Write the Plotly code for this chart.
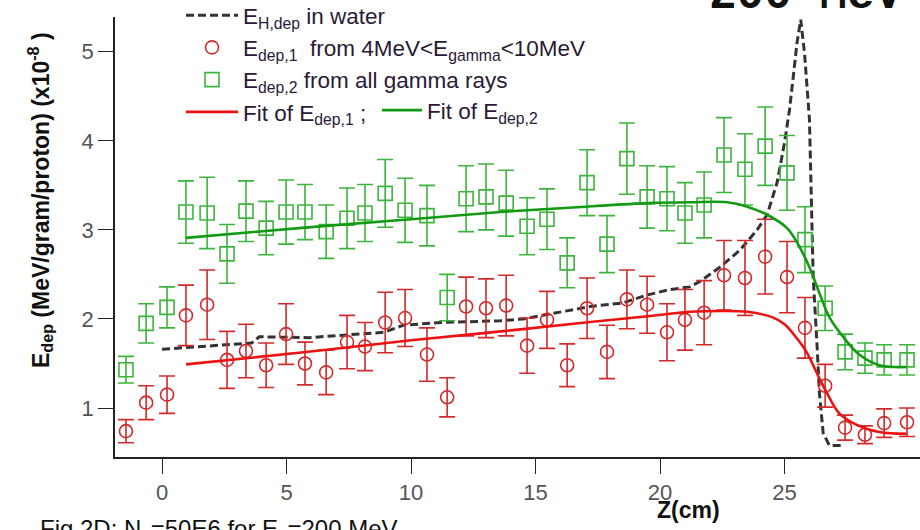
import plotly.graph_objects as go

# ---------------- data ----------------
z_points = [-1.45, -0.64, 0.20, 0.96, 1.81, 2.61, 3.37, 4.18, 4.98, 5.74,
            6.59, 7.43, 8.15, 8.96, 9.76, 10.64, 11.45, 12.21, 13.01, 13.82,
            14.66, 15.46, 16.27, 17.07, 17.87, 18.67, 19.48, 20.28, 21.00, 21.77,
            22.57, 23.41, 24.22, 25.10, 25.82, 26.63, 27.43, 28.23, 29.00, 29.92]

edep2 = [1.43, 1.95, 2.13, 3.20, 3.19, 2.73, 3.21, 3.02, 3.20, 3.20,
         2.98, 3.13, 3.19, 3.41, 3.22, 3.16, 2.24, 3.35, 3.37, 3.30,
         3.04, 3.12, 2.63, 3.53, 2.84, 3.80, 3.37, 3.35, 3.19, 3.28,
         3.84, 3.68, 3.94, 3.64, 2.89, 2.12, 1.63, 1.56, 1.54, 1.54]
edep2_err = [0.15, 0.22, 0.23, 0.35, 0.40, 0.33, 0.34, 0.30, 0.36, 0.31,
             0.30, 0.34, 0.32, 0.38, 0.36, 0.34, 0.26, 0.37, 0.37, 0.37,
             0.32, 0.34, 0.28, 0.37, 0.32, 0.40, 0.35, 0.36, 0.34, 0.37,
             0.42, 0.40, 0.44, 0.42, 0.37, 0.25, 0.20, 0.17, 0.17, 0.17]

edep1 = [0.74, 1.06, 1.15, 2.04, 2.16, 1.54, 1.64, 1.48, 1.83, 1.50,
         1.40, 1.74, 1.69, 1.96, 2.01, 1.60, 1.12, 2.14, 2.12, 2.15,
         1.70, 1.99, 1.48, 2.12, 1.63, 2.22, 2.16, 1.85, 1.99, 2.07,
         2.49, 2.46, 2.70, 2.47, 1.90, 1.25, 0.78, 0.70, 0.83, 0.84]
edep1_err = [0.13, 0.19, 0.21, 0.34, 0.39, 0.32, 0.30, 0.25, 0.34, 0.24,
             0.25, 0.30, 0.27, 0.34, 0.32, 0.30, 0.22, 0.33, 0.33, 0.34,
             0.31, 0.32, 0.24, 0.34, 0.30, 0.33, 0.32, 0.32, 0.34, 0.36,
             0.39, 0.42, 0.42, 0.40, 0.34, 0.24, 0.14, 0.10, 0.16, 0.16]

fit1_z = [0.96, 5.5, 10.0, 13.6, 17.0, 19.5, 21.2, 22.5, 23.5, 24.5,
          25.0, 25.5, 25.9, 26.3, 26.7, 27.2, 27.9, 28.8, 29.9]
fit1_e = [1.49, 1.62, 1.76, 1.86, 1.96, 2.03, 2.08, 2.09, 2.08, 2.02,
          1.94, 1.78, 1.62, 1.39, 1.17, 0.94, 0.81, 0.73, 0.71]

fit2_z = [0.96, 5.5, 10.0, 13.6, 17.0, 19.5, 21.2, 22.7, 23.5, 24.3,
          25.1, 25.6, 26.0, 26.4, 26.8, 27.35, 28.0, 28.8, 29.4, 29.9]
fit2_e = [2.91, 3.02, 3.12, 3.20, 3.26, 3.30, 3.31, 3.31, 3.26, 3.17,
          3.02, 2.81, 2.58, 2.29, 2.02, 1.80, 1.60, 1.48, 1.46, 1.46]

water_z = [0.0, 2.3, 3.6, 3.9, 5.9, 8.9, 9.7, 11.2, 13.6, 14.5,
           15.9, 17.2, 18.5, 19.5, 20.4, 21.2, 21.6, 22.4, 23.2, 23.9,
           24.3, 24.7, 25.0, 25.2, 25.35, 25.5, 25.65, 25.8, 26.0, 26.1,
           26.15, 26.3, 26.4, 26.55, 26.8, 27.3]
water_e = [1.66, 1.71, 1.73, 1.80, 1.79, 1.85, 1.93, 1.96, 1.98, 2.00,
           2.07, 2.14, 2.18, 2.27, 2.33, 2.36, 2.42, 2.58, 2.77, 3.00,
           3.17, 3.53, 3.98, 4.35, 4.72, 5.10, 5.36, 4.99, 4.24, 3.22,
           2.47, 1.73, 1.17, 0.72, 0.58, 0.58]

x_ticks = [0, 5, 10, 15, 20, 25]
y_ticks = [1, 2, 3, 4, 5]

# ---------------- styles ----------------
RED_PT = "#d22a2a"
RED_FIT = "#ee1111"
GREEN_PT = "#3cb43c"
GREEN_FIT = "#139a13"
TXT = "#2a1a36"
FONT = "Liberation Sans, Arial, sans-serif"

L, R, T, B = 115, 0, 17, 73
PW, PH = 920 - L - R, 530 - T - B


def px_x(p):
    return (p - L) / PW


def px_y(p):
    return (530 - B - p) / PH


fig = go.Figure()

fig.add_trace(go.Scatter(
    x=water_z, y=water_e, mode="lines",
    line=dict(color="#333333", width=3, dash="8px,4px"),
    name="E<sub>H,dep</sub> in water", legendgroup="a", legend="legend"))

fig.add_trace(go.Scatter(
    x=z_points, y=edep1, mode="markers",
    marker=dict(symbol="circle-open", size=13, color=RED_PT, line=dict(width=1.6)),
    error_y=dict(type="data", array=edep1_err, color=RED_PT, thickness=1.6, width=8),
    name="E<sub>dep,1</sub>  from 4MeV&lt;E<sub>gamma</sub>&lt;10MeV", legendgroup="b", legend="legend"))

fig.add_trace(go.Scatter(
    x=z_points, y=edep2, mode="markers",
    marker=dict(symbol="square-open", size=14, color=GREEN_PT, line=dict(width=1.6)),
    error_y=dict(type="data", array=edep2_err, color=GREEN_PT, thickness=1.6, width=8),
    name="E<sub>dep,2</sub> from all gamma rays", legendgroup="c", legend="legend"))

fig.add_trace(go.Scatter(
    x=fit1_z, y=fit1_e, mode="lines", line=dict(color=RED_FIT, width=2.6, shape="spline"),
    name="Fit of E<sub>dep,1</sub> ;", legendgroup="d", legend="legend"))

fig.add_trace(go.Scatter(
    x=fit2_z, y=fit2_e, mode="lines", line=dict(color=GREEN_FIT, width=2.6, shape="spline"),
    name="Fit of E<sub>dep,2</sub>", legendgroup="e", legend="legend2"))

axis_common = dict(showline=True, linecolor="#222222", linewidth=1.5, ticks="outside",
                   ticklen=15, tickwidth=1.3, tickcolor="#222222", showgrid=False,
                   zeroline=False, tickfont=dict(family=FONT, size=22, color="#555555"))

fig.update_layout(
    width=920, height=530,
    margin=dict(l=L, r=R, t=T, b=B, autoexpand=False),
    paper_bgcolor="white", plot_bgcolor="white",
    showlegend=True,
    xaxis=dict(range=[-1.89, 30.44], tickvals=x_ticks, ticktext=[str(v) for v in x_ticks],
               **axis_common),
    yaxis=dict(range=[0.45, 5.39], tickvals=y_ticks, ticktext=[str(v) for v in y_ticks],
               **axis_common),
    legend=dict(x=px_x(181), y=px_y(-6), xanchor="left", yanchor="top",
                bgcolor="rgba(0,0,0,0)",
                font=dict(family=FONT, size=22.5, color=TXT), tracegroupgap=0,
                itemwidth=52),
    legend2=dict(x=px_x(377), y=px_y(89), xanchor="left", yanchor="top",
                 bgcolor="rgba(0,0,0,0)",
                 font=dict(family=FONT, size=22.5, color=TXT), itemwidth=40),
    annotations=[
        dict(text="<b>E<sub>dep</sub> (MeV/gram/proton) (x10<sup>-8</sup> )</b>",
             xref="paper", yref="paper", x=px_x(40), y=px_y(200), textangle=-90,
             xanchor="center", yanchor="middle", showarrow=False,
             font=dict(family=FONT, size=23, color="#111111")),
        dict(text="<b>Z(cm)</b>", xref="paper", yref="paper", x=px_x(688),
             y=px_y(510), xanchor="center", yanchor="middle", showarrow=False,
             font=dict(family=FONT, size=23, color="#111111")),
        dict(text="Fig 2D: N<sub>p</sub>=50E6 for E<sub>p</sub>=200 MeV",
             xref="paper", yref="paper", x=px_x(38), y=px_y(513),
             xanchor="left", yanchor="top", showarrow=False,
             font=dict(family=FONT, size=24, color="#111111")),
        dict(text="<b>200 MeV</b>", xref="paper", yref="paper", x=px_x(905),
             y=px_y(24), xanchor="right", yanchor="bottom", showarrow=False,
             font=dict(family="Liberation Mono, Courier New, monospace", size=46, color="#111111")),
    ],
)

fig.write_html("out.html", post_script="document.body.style.margin='0';",
               config={"displayModeBar": False})
